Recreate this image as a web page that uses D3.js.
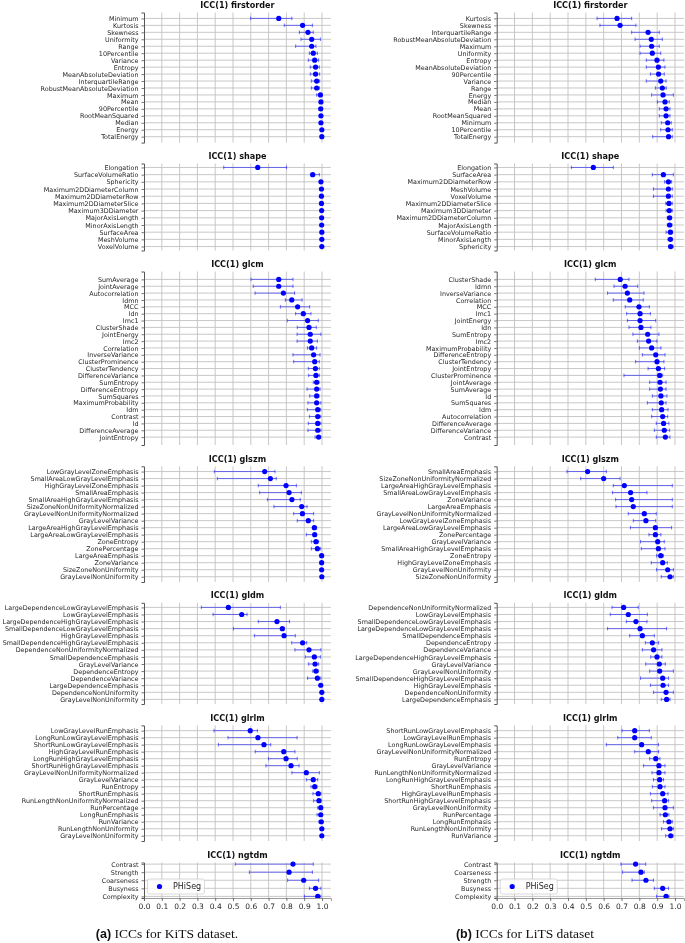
<!DOCTYPE html>
<html>
<head>
<meta charset="utf-8">
<script src="https://cdn.jsdelivr.net/npm/d3@7"></script>
<style>
  body { margin: 0; background: white; }
  svg { display: block; will-change: transform; }
</style>
</head>
<body>
<svg id="chart" width="685" height="943"></svg>
<script>
// rows are [feature, icc, lower 95% bound, upper 95% bound]
const kits_firstorder = [
  ['Minimum', 0.757, 0.599, 0.831],
  ['Kurtosis', 0.891, 0.788, 0.946],
  ['Skewness', 0.921, 0.873, 0.951],
  ['Uniformity', 0.942, 0.882, 0.991],
  ['Range', 0.942, 0.852, 0.966],
  ['10Percentile', 0.951, 0.929, 0.974],
  ['Variance', 0.959, 0.923, 0.981],
  ['Entropy', 0.964, 0.934, 0.985],
  ['MeanAbsoluteDeviation', 0.964, 0.934, 0.987],
  ['InterquartileRange', 0.970, 0.940, 0.987],
  ['RobustMeanAbsoluteDeviation', 0.970, 0.940, 0.985],
  ['Maximum', 0.991, 0.970, 0.998],
  ['Mean', 0.994, 0.987, 0.998],
  ['90Percentile', 0.993, 0.983, 0.999],
  ['RootMeanSquared', 0.994, 0.987, 0.998],
  ['Median', 0.994, 0.987, 0.998],
  ['Energy', 0.999, 0.994, 1.0],
  ['TotalEnergy', 0.999, 0.994, 1.0]
];
const kits_shape = [
  ['Elongation', 0.639, 0.448, 0.801],
  ['SurfaceVolumeRatio', 0.948, 0.935, 0.985],
  ['Sphericity', 0.994, 0.988, 0.999],
  ['Maximum2DDiameterColumn', 0.997, 0.993, 1.0],
  ['Maximum2DDiameterRow', 0.997, 0.993, 1.0],
  ['Maximum2DDiameterSlice', 0.997, 0.993, 1.0],
  ['Maximum3DDiameter', 0.998, 0.995, 1.0],
  ['MajorAxisLength', 0.998, 0.995, 1.0],
  ['MinorAxisLength', 0.998, 0.995, 1.0],
  ['SurfaceArea', 0.999, 0.997, 1.0],
  ['MeshVolume', 0.999, 0.998, 1.0],
  ['VoxelVolume', 0.999, 0.998, 1.0]
];
const kits_glcm = [
  ['SumAverage', 0.757, 0.601, 0.837],
  ['JointAverage', 0.757, 0.614, 0.837],
  ['Autocorrelation', 0.783, 0.624, 0.846],
  ['Idmn', 0.830, 0.794, 0.888],
  ['MCC', 0.863, 0.766, 0.931],
  ['Idn', 0.895, 0.852, 0.938],
  ['Imc1', 0.919, 0.805, 0.979],
  ['ClusterShade', 0.927, 0.861, 0.968],
  ['JointEnergy', 0.934, 0.860, 0.994],
  ['Imc2', 0.934, 0.860, 0.974],
  ['Correlation', 0.942, 0.918, 0.970],
  ['InverseVariance', 0.953, 0.837, 0.989],
  ['ClusterProminence', 0.959, 0.841, 0.985],
  ['ClusterTendency', 0.963, 0.923, 0.985],
  ['DifferenceVariance', 0.966, 0.925, 0.985],
  ['SumEntropy', 0.970, 0.951, 0.983],
  ['DifferenceEntropy', 0.970, 0.916, 0.989],
  ['SumSquares', 0.970, 0.931, 0.983],
  ['MaximumProbability', 0.970, 0.921, 0.994],
  ['Idm', 0.976, 0.918, 0.993],
  ['Contrast', 0.976, 0.929, 0.993],
  ['Id', 0.976, 0.923, 0.994],
  ['DifferenceAverage', 0.976, 0.921, 0.994],
  ['JointEntropy', 0.981, 0.961, 0.993]
];
const kits_glszm = [
  ['LowGrayLevelZoneEmphasis', 0.678, 0.395, 0.736],
  ['SmallAreaLowGrayLevelEmphasis', 0.710, 0.412, 0.743],
  ['HighGrayLevelZoneEmphasis', 0.798, 0.642, 0.856],
  ['SmallAreaEmphasis', 0.815, 0.650, 0.884],
  ['SmallAreaHighGrayLevelEmphasis', 0.831, 0.693, 0.878],
  ['SizeZoneNonUniformityNormalized', 0.886, 0.730, 0.916],
  ['GrayLevelNonUniformityNormalized', 0.890, 0.841, 0.953],
  ['GrayLevelVariance', 0.923, 0.861, 0.953],
  ['LargeAreaHighGrayLevelEmphasis', 0.957, 0.948, 0.970],
  ['LargeAreaLowGrayLevelEmphasis', 0.959, 0.912, 0.966],
  ['ZoneEntropy', 0.966, 0.940, 0.981],
  ['ZonePercentage', 0.974, 0.940, 0.993],
  ['LargeAreaEmphasis', 0.998, 0.995, 1.0],
  ['ZoneVariance', 0.998, 0.995, 1.0],
  ['SizeZoneNonUniformity', 0.998, 0.995, 1.0],
  ['GrayLevelNonUniformity', 0.999, 0.997, 1.0]
];
const kits_gldm = [
  ['LargeDependenceLowGrayLevelEmphasis', 0.474, 0.322, 0.766],
  ['LowGrayLevelEmphasis', 0.549, 0.388, 0.579],
  ['LargeDependenceHighGrayLevelEmphasis', 0.747, 0.642, 0.818],
  ['SmallDependenceLowGrayLevelEmphasis', 0.777, 0.502, 0.788],
  ['HighGrayLevelEmphasis', 0.787, 0.620, 0.850],
  ['SmallDependenceHighGrayLevelEmphasis', 0.891, 0.830, 0.914],
  ['DependenceNonUniformityNormalized', 0.927, 0.848, 0.994],
  ['SmallDependenceEmphasis', 0.957, 0.906, 0.991],
  ['GrayLevelVariance', 0.961, 0.925, 0.981],
  ['DependenceEntropy', 0.966, 0.948, 0.979],
  ['DependenceVariance', 0.974, 0.919, 0.994],
  ['LargeDependenceEmphasis', 0.993, 0.988, 0.998],
  ['DependenceNonUniformity', 0.999, 0.997, 1.0],
  ['GrayLevelNonUniformity', 0.999, 0.997, 1.0]
];
const kits_glrlm = [
  ['LowGrayLevelRunEmphasis', 0.597, 0.393, 0.637],
  ['LongRunLowGrayLevelEmphasis', 0.640, 0.472, 0.860],
  ['ShortRunLowGrayLevelEmphasis', 0.674, 0.418, 0.712],
  ['HighGrayLevelRunEmphasis', 0.785, 0.625, 0.848],
  ['LongRunHighGrayLevelEmphasis', 0.798, 0.699, 0.861],
  ['ShortRunHighGrayLevelEmphasis', 0.826, 0.685, 0.871],
  ['GrayLevelNonUniformityNormalized', 0.912, 0.831, 0.985],
  ['GrayLevelVariance', 0.951, 0.912, 0.976],
  ['RunEntropy', 0.959, 0.938, 0.972],
  ['ShortRunEmphasis', 0.979, 0.949, 0.994],
  ['RunLengthNonUniformityNormalized', 0.983, 0.953, 0.994],
  ['RunPercentage', 0.993, 0.976, 0.999],
  ['LongRunEmphasis', 0.993, 0.972, 0.999],
  ['RunVariance', 0.996, 0.983, 1.0],
  ['RunLengthNonUniformity', 0.999, 0.997, 1.0],
  ['GrayLevelNonUniformity', 0.999, 0.997, 1.0]
];
const kits_ngtdm = [
  ['Contrast', 0.837, 0.513, 0.951],
  ['Strength', 0.815, 0.592, 0.946],
  ['Coarseness', 0.897, 0.807, 0.981],
  ['Busyness', 0.964, 0.929, 0.994],
  ['Complexity', 0.976, 0.901, 0.994]
];

const lits_firstorder = [
  ['Kurtosis', 0.675, 0.563, 0.757],
  ['Skewness', 0.692, 0.579, 0.781],
  ['InterquartileRange', 0.849, 0.757, 0.912],
  ['RobustMeanAbsoluteDeviation', 0.867, 0.776, 0.929],
  ['Maximum', 0.869, 0.804, 0.912],
  ['Uniformity', 0.873, 0.804, 0.920],
  ['Entropy', 0.899, 0.839, 0.938],
  ['MeanAbsoluteDeviation', 0.907, 0.839, 0.944],
  ['90Percentile', 0.908, 0.862, 0.940],
  ['Variance', 0.920, 0.839, 0.950],
  ['Range', 0.929, 0.890, 0.951],
  ['Energy', 0.933, 0.869, 0.991],
  ['Median', 0.944, 0.901, 0.968],
  ['Mean', 0.950, 0.912, 0.972],
  ['RootMeanSquared', 0.950, 0.912, 0.972],
  ['Minimum', 0.959, 0.923, 0.979],
  ['10Percentile', 0.961, 0.920, 0.985],
  ['TotalEnergy', 0.964, 0.875, 0.985]
];
const lits_shape = [
  ['Elongation', 0.542, 0.419, 0.654],
  ['SurfaceArea', 0.935, 0.873, 0.991],
  ['Maximum2DDiameterRow', 0.963, 0.942, 0.981],
  ['MeshVolume', 0.963, 0.879, 0.985],
  ['VoxelVolume', 0.963, 0.879, 0.985],
  ['Maximum2DDiameterSlice', 0.966, 0.948, 0.985],
  ['Maximum3DDiameter', 0.968, 0.950, 0.985],
  ['Maximum2DDiameterColumn', 0.970, 0.957, 0.981],
  ['MajorAxisLength', 0.970, 0.957, 0.983],
  ['SurfaceVolumeRatio', 0.974, 0.950, 0.987],
  ['MinorAxisLength', 0.974, 0.961, 0.987],
  ['Sphericity', 0.976, 0.964, 0.989]
];
const lits_glcm = [
  ['ClusterShade', 0.693, 0.553, 0.742],
  ['Idmn', 0.720, 0.658, 0.791],
  ['InverseVariance', 0.733, 0.622, 0.826],
  ['Correlation', 0.746, 0.654, 0.822],
  ['MCC', 0.798, 0.721, 0.856],
  ['Imc1', 0.804, 0.729, 0.862],
  ['JointEnergy', 0.804, 0.733, 0.892],
  ['Idn', 0.809, 0.742, 0.865],
  ['SumEntropy', 0.847, 0.764, 0.910],
  ['Imc2', 0.852, 0.789, 0.899],
  ['MaximumProbability', 0.869, 0.800, 0.921],
  ['DifferenceEntropy', 0.892, 0.817, 0.944],
  ['ClusterTendency', 0.899, 0.779, 0.938],
  ['JointEntropy', 0.907, 0.849, 0.942],
  ['ClusterProminence', 0.914, 0.714, 0.931],
  ['JointAverage', 0.916, 0.858, 0.950],
  ['SumAverage', 0.918, 0.858, 0.950],
  ['Id', 0.921, 0.873, 0.955],
  ['SumSquares', 0.923, 0.845, 0.950],
  ['Idm', 0.925, 0.873, 0.961],
  ['Autocorrelation', 0.931, 0.869, 0.959],
  ['DifferenceAverage', 0.936, 0.895, 0.966],
  ['DifferenceVariance', 0.940, 0.884, 0.970],
  ['Contrast', 0.946, 0.895, 0.972]
];
const lits_glszm = [
  ['SmallAreaEmphasis', 0.510, 0.394, 0.615],
  ['SizeZoneNonUniformityNormalized', 0.600, 0.471, 0.692],
  ['LargeAreaHighGrayLevelEmphasis', 0.716, 0.654, 0.985],
  ['SmallAreaLowGrayLevelEmphasis', 0.751, 0.650, 0.843],
  ['ZoneVariance', 0.757, 0.667, 0.985],
  ['LargeAreaEmphasis', 0.766, 0.669, 0.985],
  ['GrayLevelNonUniformityNormalized', 0.828, 0.738, 0.895],
  ['LowGrayLevelZoneEmphasis', 0.837, 0.766, 0.892],
  ['LargeAreaLowGrayLevelEmphasis', 0.890, 0.750, 0.981],
  ['ZonePercentage', 0.890, 0.854, 0.921],
  ['GrayLevelVariance', 0.903, 0.807, 0.940],
  ['SmallAreaHighGrayLevelEmphasis', 0.907, 0.811, 0.944],
  ['ZoneEntropy', 0.920, 0.897, 0.935],
  ['HighGrayLevelZoneEmphasis', 0.931, 0.867, 0.957],
  ['GrayLevelNonUniformity', 0.959, 0.897, 0.991],
  ['SizeZoneNonUniformity', 0.972, 0.923, 0.991]
];
const lits_gldm = [
  ['DependenceNonUniformityNormalized', 0.712, 0.647, 0.794],
  ['LowGrayLevelEmphasis', 0.738, 0.637, 0.845],
  ['SmallDependenceLowGrayLevelEmphasis', 0.781, 0.727, 0.843],
  ['LargeDependenceLowGrayLevelEmphasis', 0.804, 0.622, 0.953],
  ['SmallDependenceEmphasis', 0.817, 0.746, 0.884],
  ['DependenceEntropy', 0.873, 0.834, 0.908],
  ['DependenceVariance', 0.880, 0.817, 0.927],
  ['LargeDependenceHighGrayLevelEmphasis', 0.899, 0.864, 0.927],
  ['GrayLevelVariance', 0.912, 0.836, 0.946],
  ['GrayLevelNonUniformity', 0.914, 0.858, 0.991],
  ['SmallDependenceHighGrayLevelEmphasis', 0.931, 0.807, 0.964],
  ['HighGrayLevelEmphasis', 0.933, 0.862, 0.964],
  ['DependenceNonUniformity', 0.950, 0.880, 0.991],
  ['LargeDependenceEmphasis', 0.953, 0.923, 0.972]
];
const lits_glrlm = [
  ['ShortRunLowGrayLevelEmphasis', 0.774, 0.703, 0.856],
  ['LowGrayLevelRunEmphasis', 0.774, 0.679, 0.867],
  ['LongRunLowGrayLevelEmphasis', 0.813, 0.615, 0.907],
  ['GrayLevelNonUniformityNormalized', 0.850, 0.774, 0.908],
  ['RunEntropy', 0.892, 0.858, 0.916],
  ['GrayLevelVariance', 0.910, 0.824, 0.944],
  ['RunLengthNonUniformityNormalized', 0.910, 0.871, 0.944],
  ['LongRunHighGrayLevelEmphasis', 0.914, 0.879, 0.936],
  ['ShortRunEmphasis', 0.916, 0.873, 0.944],
  ['HighGrayLevelRunEmphasis', 0.931, 0.862, 0.961],
  ['ShortRunHighGrayLevelEmphasis', 0.942, 0.869, 0.964],
  ['GrayLevelNonUniformity', 0.944, 0.879, 0.991],
  ['RunPercentage', 0.946, 0.916, 0.966],
  ['LongRunEmphasis', 0.966, 0.935, 0.985],
  ['RunLengthNonUniformity', 0.972, 0.925, 0.991],
  ['RunVariance', 0.976, 0.948, 0.989]
];
const lits_ngtdm = [
  ['Contrast', 0.779, 0.697, 0.836],
  ['Coarseness', 0.809, 0.706, 0.828],
  ['Strength', 0.837, 0.759, 0.879],
  ['Busyness', 0.931, 0.884, 0.964],
  ['Complexity', 0.950, 0.897, 0.966]
];

const feature_classes = ['firstorder', 'shape', 'glcm', 'glszm', 'gldm', 'glrlm', 'ngtdm'];
const kits_panels = [kits_firstorder, kits_shape, kits_glcm, kits_glszm, kits_gldm, kits_glrlm, kits_ngtdm];
const lits_panels = [lits_firstorder, lits_shape, lits_glcm, lits_glszm, lits_gldm, lits_glrlm, lits_ngtdm];
const x_ticks = [0.0, 0.1, 0.2, 0.3, 0.4, 0.5, 0.6, 0.7, 0.8, 0.9, 1.0];
const legend_label = 'PHiSeg';
const caption_tags = ['(a)', '(b)'];
const caption_texts = [' ICCs for KiTS dataset.', ' ICCs for LiTS dataset'];

// layout
const panel_bounds = [
  [12.5, 142.6], [163.5, 250.5], [271.5, 445], [466.3, 582],
  [602.8, 704], [725.4, 841], [862.5, 898]
];
const columns = [
  {left: 144, right: 330.9, panels: kits_panels, caption_x: 167},
  {left: 496.7, right: 683.9, panels: lits_panels, caption_x: 525}
];

const dot_color = '#0000ff';
const dot_radius = 2.6;
const grid_color = '#c2c2c2';
const text_color = '#262626';
const font = '"DejaVu Sans", sans-serif';

const svg = d3.select('#chart');

columns.forEach((col, ci) => {
  const x = d3.scaleLinear()
    .domain([0, 1.05])
    .range([col.left, col.right]);

  col.panels.forEach((rows, pi) => {
    const [top, bottom] = panel_bounds[pi];
    const y = d3.scalePoint()
      .domain(rows.map(d => d[0]))
      .range([top, bottom])
      .padding(0.05 * (rows.length - 1));

    const g = svg.append('g');

    // grid
    g.selectAll('line.vgrid')
      .data(x_ticks.slice(1))
      .join('line')
      .attr('x1', d => x(d)).attr('x2', d => x(d))
      .attr('y1', top).attr('y2', bottom)
      .attr('stroke', grid_color)
      .attr('stroke-width', 0.9);

    g.selectAll('line.hgrid')
      .data(rows)
      .join('line')
      .attr('x1', x(0)).attr('x2', x(1.05))
      .attr('y1', d => y(d[0])).attr('y2', d => y(d[0]))
      .attr('stroke', grid_color)
      .attr('stroke-width', 0.9);

    // legend sits under the marks in the ngtdm panel
    if (pi === col.panels.length - 1) {
      const lg = g.append('g')
        .attr('transform', `translate(${x(0) + 3.5},${bottom - 19})`);
      lg.append('rect')
        .attr('width', 57).attr('height', 15)
        .attr('rx', 2)
        .attr('fill', 'white').attr('fill-opacity', 0.8)
        .attr('stroke', '#d0d0d0').attr('stroke-width', 0.8);
      lg.append('circle')
        .attr('cx', 12).attr('cy', 7.5).attr('r', dot_radius)
        .attr('fill', dot_color);
      lg.append('text')
        .attr('x', 25.5).attr('y', 10.3)
        .attr('font-family', font).attr('font-size', 8)
        .attr('fill', text_color)
        .text(legend_label);
    }

    // error bars
    const bars = g.selectAll('g.bar')
      .data(rows)
      .join('g');
    bars.append('line')
      .attr('x1', d => x(d[2])).attr('x2', d => x(d[3]))
      .attr('y1', d => y(d[0])).attr('y2', d => y(d[0]))
      .attr('stroke', dot_color).attr('stroke-opacity', 0.5)
      .attr('stroke-width', 1);
    [2, 3].forEach(k => {
      bars.append('line')
        .attr('x1', d => x(d[k])).attr('x2', d => x(d[k]))
        .attr('y1', d => y(d[0]) - 1.8).attr('y2', d => y(d[0]) + 1.8)
        .attr('stroke', dot_color).attr('stroke-opacity', 0.55)
        .attr('stroke-width', 1);
    });
    bars.append('circle')
      .attr('cx', d => x(d[1]))
      .attr('cy', d => y(d[0]))
      .attr('r', dot_radius)
      .attr('fill', dot_color);

    // y axis
    const y_axis = g.append('g')
      .attr('transform', `translate(${x(0)},0)`)
      .call(d3.axisLeft(y).tickSizeOuter(0).tickSize(2.5).tickPadding(3));
    y_axis.select('.domain').attr('stroke', '#555').attr('stroke-width', 1);
    y_axis.selectAll('.tick line').attr('stroke', '#555').attr('stroke-width', 0.8);
    y_axis.selectAll('.tick text')
      .attr('font-family', font).attr('font-size', 6.4)
      .attr('fill', text_color);

    g.append('text')
      .attr('x', (x(0) + x(1.05)) / 2)
      .attr('y', top - 4.5)
      .attr('text-anchor', 'middle')
      .attr('font-family', font).attr('font-size', 8.1)
      .attr('font-weight', 'bold')
      .attr('fill', '#111')
      .text(`ICC(1) ${feature_classes[pi]}`);

    if (pi === col.panels.length - 1) {
      const x_axis = g.append('g')
        .attr('transform', `translate(0,${bottom})`)
        .call(d3.axisBottom(x).tickValues(x_ticks).tickFormat(d3.format('.1f'))
          .tickSizeOuter(0).tickSize(3).tickPadding(2.5));
      x_axis.select('.domain').attr('stroke', '#9a9a9a').attr('stroke-width', 1);
      x_axis.selectAll('.tick line').attr('stroke', '#555').attr('stroke-width', 0.8);
      x_axis.selectAll('.tick text')
        .attr('font-family', font).attr('font-size', 7.5)
        .attr('fill', text_color);
    }
  });

  const cap = svg.append('text')
    .attr('x', col.caption_x)
    .attr('y', 938)
    .attr('text-anchor', 'middle')
    .attr('fill', '#111');
  cap.append('tspan')
    .attr('font-family', '"Liberation Sans", Arial, sans-serif')
    .attr('font-weight', 'bold')
    .attr('font-size', 12.5)
    .text(caption_tags[ci]);
  cap.append('tspan')
    .attr('font-family', '"Liberation Serif", "Times New Roman", serif')
    .attr('font-size', 13.5)
    .text(caption_texts[ci]);
});
</script>
</body>
</html>
